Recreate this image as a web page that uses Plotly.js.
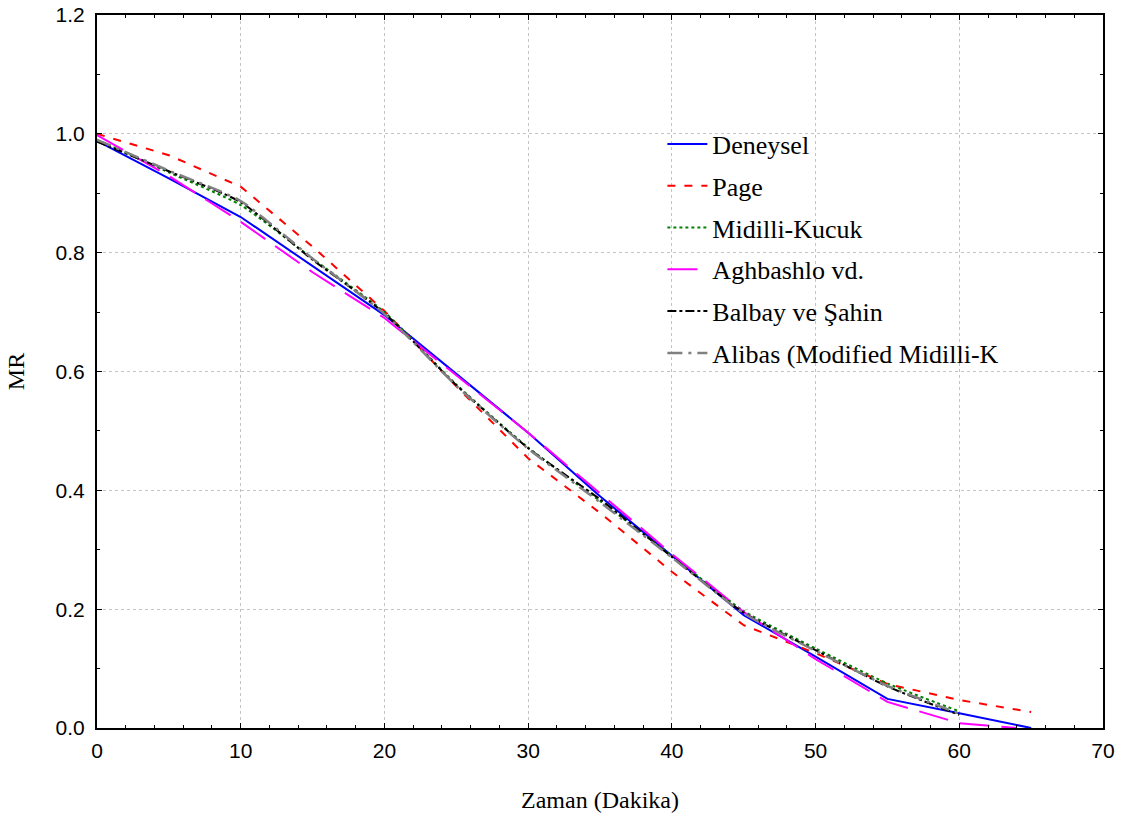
<!DOCTYPE html>
<html>
<head>
<meta charset="utf-8">
<script src="https://cdn.plot.ly/plotly-3.0.1.min.js"></script>
<style>html,body{margin:0;padding:0;background:#fff;}#chart{width:1129px;height:823px;}</style>
</head>
<body>
<div id="chart"></div>
<script>
// Time (minutes)
const timeFull = [0, 5, 10, 15, 20, 25, 30, 35, 40, 45, 50, 55, 60, 65];
const timeModel = [0, 5, 10, 15, 20, 25, 30, 35, 40, 45, 50, 55, 60];
const timeAgh = [0, 5, 10, 15, 20, 25, 30, 35, 40, 45, 50, 55, 60, 64];

// MR values
const deneysel = [0.988, 0.925, 0.860, 0.778, 0.695, 0.596, 0.497, 0.390, 0.290, 0.190, 0.120, 0.049, 0.025, 0.0];
const page = [1.0, 0.964, 0.911, 0.810, 0.702, 0.575, 0.454, 0.362, 0.263, 0.173, 0.126, 0.074, 0.047, 0.027];
const midilli = [0.990, 0.935, 0.880, 0.790, 0.700, 0.578, 0.472, 0.382, 0.290, 0.197, 0.134, 0.075, 0.028];
const aghbashlo = [0.998, 0.929, 0.852, 0.767, 0.690, 0.594, 0.497, 0.395, 0.293, 0.195, 0.116, 0.044, 0.008, 0.0];
const balbay = [0.987, 0.937, 0.885, 0.788, 0.698, 0.577, 0.471, 0.385, 0.288, 0.194, 0.131, 0.070, 0.022];
const alibas = [0.990, 0.938, 0.887, 0.790, 0.697, 0.576, 0.470, 0.380, 0.287, 0.193, 0.130, 0.071, 0.024];

const seriesNames = ["Deneysel", "Page", "Midilli-Kucuk", "Aghbashlo vd.", "Balbay ve Şahin", "Alibas (Modified Midilli-K"];

const traces = [
  {x: timeFull, y: deneysel, name: seriesNames[0], line: {color: '#0000ff', width: 2, dash: 'solid'}},
  {x: timeFull, y: page, name: seriesNames[1], line: {color: '#ff0000', width: 2, dash: '8px,9px'}},
  {x: timeModel, y: midilli, name: seriesNames[2], line: {color: '#008000', width: 2, dash: 'dot', shape: 'spline', smoothing: 0.6}},
  {x: timeAgh, y: aghbashlo, name: seriesNames[3], line: {color: '#ff00ff', width: 2, dash: '30px,12px'}},
  {x: timeModel, y: balbay, name: seriesNames[4], line: {color: '#000000', width: 2, dash: 'dashdot', shape: 'spline', smoothing: 0.6}},
  {x: timeModel, y: alibas, name: seriesNames[5], line: {color: '#808080', width: 2.5, dash: 'longdashdot', shape: 'spline', smoothing: 0.6}}
].map((t, i) => Object.assign(t, {type: 'scatter', mode: 'lines', legendgroup: 'g' + i, hoverinfo: 'skip'}));

const sansFont = 'Arial';
const serifFont = '"Liberation Serif"';

const axisCommon = {
  showline: true, linecolor: '#000', linewidth: 2, mirror: 'ticks',
  ticks: 'inside', ticklen: 5, tickwidth: 1, tickcolor: '#000',
  showgrid: true, gridcolor: '#c4c4c4', griddash: '3px,3px', gridwidth: 1,
  zeroline: false,
  tickfont: {family: sansFont, size: 21, color: '#000'}
};

const layout = {
  width: 1129, height: 823,
  paper_bgcolor: '#fff', plot_bgcolor: '#fff',
  margin: {l: 97, r: 26, t: 15, b: 95},
  showlegend: true,
  legend: {
    x: 0.562, y: 0.852, xanchor: 'left', yanchor: 'top',
    bgcolor: 'rgba(0,0,0,0)', borderwidth: 0,
    font: {family: serifFont, size: 26, color: '#000'},
    tracegroupgap: 5, itemwidth: 40
  },
  xaxis: Object.assign({}, axisCommon, {
    range: [0, 70], dtick: 10, tick0: 0, ticklabelstandoff: 3,
    minor: {dtick: 2, ticks: 'inside', ticklen: 3, tickcolor: '#000', showgrid: false},
    title: {text: 'Zaman (Dakika)', standoff: 30, font: {family: serifFont, size: 24, color: '#000'}}
  }),
  yaxis: Object.assign({}, axisCommon, {
    range: [0, 1.2], dtick: 0.2, tick0: 0, tickformat: '.1f', ticklabelstandoff: 6,
    minor: {dtick: 0.1, ticks: 'inside', ticklen: 3, tickcolor: '#000', showgrid: false},
    title: {text: 'MR', standoff: 24, font: {family: serifFont, size: 24, color: '#000'}}
  })
};

Plotly.newPlot('chart', traces, layout, {displayModeBar: false, staticPlot: true});
</script>
</body>
</html>
